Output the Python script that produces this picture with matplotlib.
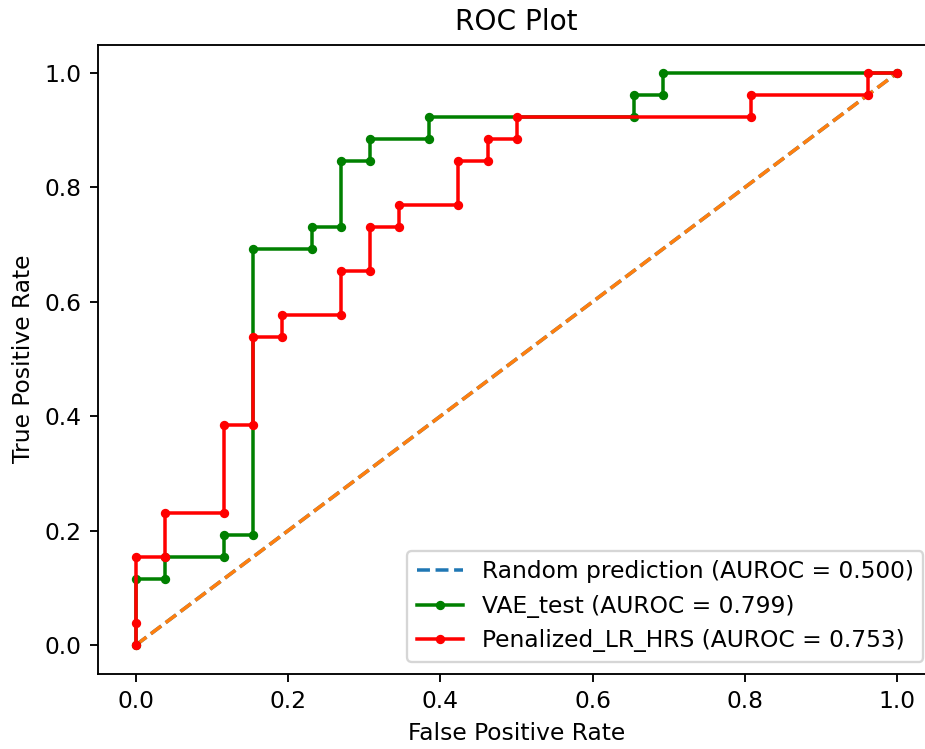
import matplotlib
matplotlib.use("Agg")
import matplotlib.pyplot as plt

# ROC points
vae_fpr = [0.0, 0.0, 0.038, 0.038, 0.115, 0.115, 0.154, 0.154, 0.231, 0.231,
           0.269, 0.269, 0.308, 0.308, 0.385, 0.385, 0.654, 0.654, 0.692, 0.692, 1.0]
vae_tpr = [0.0, 0.115, 0.115, 0.154, 0.154, 0.192, 0.192, 0.692, 0.692, 0.731,
           0.731, 0.846, 0.846, 0.885, 0.885, 0.923, 0.923, 0.962, 0.962, 1.0, 1.0]

lr_fpr = [0.0, 0.0, 0.0, 0.038, 0.038, 0.115, 0.115, 0.154, 0.154, 0.192, 0.192,
          0.269, 0.269, 0.308, 0.308, 0.346, 0.346, 0.423, 0.423, 0.462, 0.462,
          0.5, 0.5, 0.808, 0.808, 0.962, 0.962, 1.0]
lr_tpr = [0.0, 0.038, 0.154, 0.154, 0.231, 0.231, 0.385, 0.385, 0.538, 0.538, 0.577,
          0.577, 0.654, 0.654, 0.731, 0.731, 0.769, 0.769, 0.846, 0.846, 0.885,
          0.885, 0.923, 0.923, 0.962, 0.962, 1.0, 1.0]

rand_x = [0, 1]
rand_y = [0, 1]

dpi = 168
fig = plt.figure(figsize=(925 / dpi, 749 / dpi), dpi=dpi)
# the reference is cropped: right spine sits just past the image edge
ax = fig.add_axes([98 / 925, 1 - 673.5 / 749, 837 / 925, 629 / 749])

ax.plot(rand_x, rand_y, linestyle='--', label='Random prediction (AUROC = 0.500)')
# second diagonal (unlabelled, same dashes) hides the blue one
ax.plot(rand_x, rand_y, linestyle='--', color='C1')
ax.plot(vae_fpr, vae_tpr, marker='.', color='green', label='VAE_test (AUROC = 0.799)')
ax.plot(lr_fpr, lr_tpr, marker='.', color='red', label='Penalized_LR_HRS (AUROC = 0.753)')

ax.set_title('ROC Plot')
ax.set_xlabel('False Positive Rate')
ax.set_ylabel('True Positive Rate')
ax.legend(loc='lower right')

fig.savefig('out.png', dpi=dpi)
